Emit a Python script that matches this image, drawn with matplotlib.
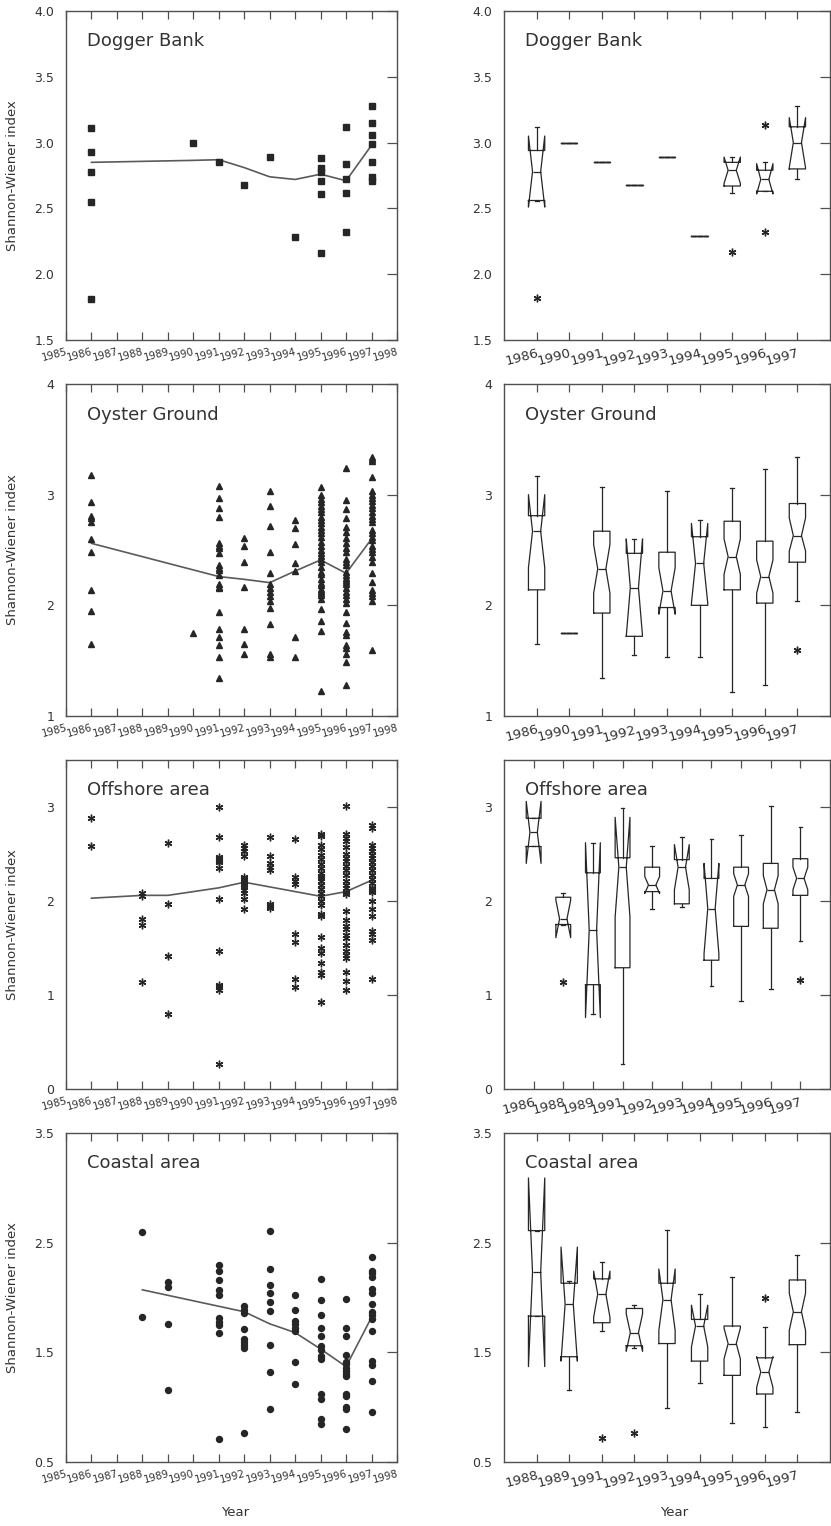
import matplotlib
matplotlib.use("Agg")
import matplotlib.pyplot as plt

# ---------------------------------------------------------------------------
# Shannon-Wiener diversity per station, grouped by sampling year
# ---------------------------------------------------------------------------

# Dogger Bank
dogger_years = [1986, 1990, 1991, 1992, 1993, 1994, 1995, 1996, 1997]
dogger_values = [
    [3.11, 2.93, 2.78, 2.55, 1.81],
    [3.00],
    [2.85],
    [2.68],
    [2.89],
    [2.28],
    [2.88, 2.81, 2.78, 2.71, 2.61, 2.16],
    [3.12, 2.84, 2.72, 2.62, 2.32],
    [3.28, 3.15, 3.06, 2.99, 2.85, 2.74, 2.71],
]
dogger_trend = [2.85, 2.865, 2.87, 2.81, 2.74, 2.72, 2.76, 2.71, 2.98]

# Oyster Ground
oyster_years = [1986, 1990, 1991, 1992, 1993, 1994, 1995, 1996, 1997]
oyster_values = [
    [3.18, 2.93, 2.81, 2.79, 2.75, 2.60, 2.48, 2.14, 1.95, 1.65],
    [1.75],
    [3.08, 2.97, 2.88, 2.80, 2.56, 2.54, 2.52, 2.47, 2.36, 2.34, 2.32, 2.27,
     2.19, 2.17, 2.16, 1.94, 1.79, 1.71, 1.64, 1.53, 1.34],
    [2.61, 2.54, 2.39, 2.17, 1.79, 1.65, 1.56],
    [3.03, 2.90, 2.72, 2.48, 2.29, 2.19, 2.16, 2.12, 2.08, 2.04, 1.98, 1.83,
     1.56, 1.53],
    [2.77, 2.70, 2.55, 2.38, 2.31, 1.71, 1.53],
    [3.07, 3.00, 2.96, 2.93, 2.90, 2.87, 2.84, 2.80, 2.77, 2.74, 2.71, 2.68,
     2.65, 2.62, 2.57, 2.54, 2.50, 2.47, 2.45, 2.42, 2.39, 2.35, 2.30, 2.28,
     2.24, 2.20, 2.18, 2.15, 2.13, 2.11, 2.09, 2.06, 1.97, 1.86, 1.77, 1.23],
    [3.24, 2.95, 2.87, 2.79, 2.71, 2.66, 2.61, 2.56, 2.52, 2.48, 2.42, 2.39,
     2.36, 2.30, 2.27, 2.25, 2.23, 2.21, 2.19, 2.16, 2.12, 2.09, 2.06, 2.02,
     1.94, 1.84, 1.76, 1.73, 1.64, 1.61, 1.56, 1.49, 1.28],
    [3.34, 3.32, 3.30, 3.16, 3.03, 3.00, 2.97, 2.94, 2.91, 2.88, 2.84, 2.81,
     2.78, 2.75, 2.68, 2.65, 2.62, 2.59, 2.54, 2.51, 2.48, 2.44, 2.39, 2.29,
     2.21, 2.14, 2.11, 2.08, 2.04, 1.60],
]
oyster_trend = [2.56, 2.32, 2.26, 2.235, 2.205, 2.31, 2.41, 2.29, 2.60]

# Offshore area
offshore_years = [1986, 1988, 1989, 1991, 1992, 1993, 1994, 1995, 1996, 1997]
offshore_values = [
    [2.88, 2.58],
    [2.09, 2.05, 1.81, 1.75, 1.14],
    [2.62, 1.97, 1.41, 0.80],
    [3.00, 2.68, 2.47, 2.45, 2.43, 2.41, 2.35, 2.02, 1.47, 1.11, 1.08, 1.05,
     0.27],
    [2.60, 2.56, 2.53, 2.48, 2.26, 2.23, 2.21, 2.19, 2.17, 2.15, 2.12, 2.08,
     2.02, 1.92],
    [2.68, 2.48, 2.40, 2.36, 2.33, 1.97, 1.95, 1.93],
    [2.66, 2.26, 2.21, 2.18, 1.65, 1.56, 1.17, 1.09],
    [2.71, 2.69, 2.60, 2.55, 2.49, 2.45, 2.39, 2.35, 2.30, 2.27, 2.25, 2.21,
     2.17, 2.13, 2.09, 2.05, 2.00, 1.96, 1.86, 1.84, 1.62, 1.50, 1.45, 1.34,
     1.24, 1.21, 0.93],
    [3.01, 2.71, 2.67, 2.64, 2.57, 2.50, 2.46, 2.43, 2.37, 2.33, 2.28, 2.21,
     2.17, 2.14, 2.10, 2.07, 1.89, 1.80, 1.73, 1.70, 1.64, 1.61, 1.53, 1.47,
     1.43, 1.39, 1.24, 1.15, 1.05],
    [2.81, 2.78, 2.60, 2.56, 2.53, 2.49, 2.46, 2.41, 2.37, 2.33, 2.28, 2.23,
     2.19, 2.14, 2.12, 2.10, 2.00, 1.91, 1.84, 1.68, 1.65, 1.58, 1.17],
]
offshore_trend = [2.03, 2.06, 2.06, 2.14, 2.20, 2.15, 2.10, 2.05, 2.10, 2.22]

# Coastal area
coastal_years = [1988, 1989, 1991, 1992, 1993, 1994, 1995, 1996, 1997]
coastal_values = [
    [2.60, 1.82],
    [2.14, 2.10, 1.76, 1.16],
    [2.30, 2.24, 2.16, 2.07, 2.02, 1.81, 1.78, 1.75, 1.68, 0.71],
    [1.92, 1.89, 1.86, 1.71, 1.62, 1.59, 1.57, 1.54, 0.76],
    [2.61, 2.26, 2.11, 2.04, 1.96, 1.88, 1.57, 1.32, 0.98],
    [2.02, 1.89, 1.79, 1.76, 1.72, 1.69, 1.41, 1.21],
    [2.17, 1.98, 1.84, 1.72, 1.65, 1.56, 1.52, 1.47, 1.44, 1.12, 1.07, 0.89,
     0.85],
    [1.99, 1.72, 1.65, 1.48, 1.41, 1.39, 1.36, 1.33, 1.30, 1.28, 1.12, 1.10,
     1.00, 0.98, 0.80],
    [2.37, 2.24, 2.22, 2.19, 2.08, 2.04, 1.94, 1.87, 1.84, 1.80, 1.69, 1.42,
     1.38, 1.24, 0.96],
]
coastal_trend = [2.07, 2.02, 1.92, 1.87, 1.76, 1.68, 1.53, 1.37, 1.82]

# Notched box-plot summaries (median, hinges, whisker ends, notch limits, outliers)
dogger_box_labels = ["1986", "1990", "1991", "1992", "1993", "1994", "1995", "1996", "1997"]
dogger_med = [2.78, 3.00, 2.85, 2.68, 2.89, 2.29, 2.79, 2.72, 3.00]
dogger_q1 = [2.56, 3.00, 2.85, 2.68, 2.89, 2.29, 2.67, 2.63, 2.80]
dogger_q3 = [2.94, 3.00, 2.85, 2.68, 2.89, 2.29, 2.85, 2.79, 3.12]
dogger_whislo = [2.56, 3.00, 2.85, 2.68, 2.89, 2.29, 2.62, 2.63, 2.72]
dogger_whishi = [3.12, 3.00, 2.85, 2.68, 2.89, 2.29, 2.89, 2.85, 3.28]
dogger_cilo = [2.51, 3.00, 2.85, 2.68, 2.89, 2.29, 2.69, 2.61, 2.81]
dogger_cihi = [3.05, 3.00, 2.85, 2.68, 2.89, 2.29, 2.89, 2.84, 3.19]
dogger_fliers = [[1.82], [], [], [], [], [], [2.17], [3.13, 2.32], []]

oyster_box_labels = ["1986", "1990", "1991", "1992", "1993", "1994", "1995", "1996", "1997"]
oyster_med = [2.67, 1.75, 2.33, 2.16, 2.13, 2.38, 2.44, 2.26, 2.63]
oyster_q1 = [2.14, 1.75, 1.93, 1.72, 1.98, 2.00, 2.14, 2.02, 2.39]
oyster_q3 = [2.81, 1.75, 2.67, 2.47, 2.48, 2.62, 2.76, 2.58, 2.92]
oyster_whislo = [1.65, 1.75, 1.34, 1.55, 1.53, 1.53, 1.22, 1.28, 2.04]
oyster_whishi = [3.17, 1.75, 3.07, 2.60, 3.03, 2.77, 3.06, 3.23, 3.34]
oyster_cilo = [2.34, 1.75, 2.11, 1.72, 1.92, 2.02, 2.28, 2.11, 2.49]
oyster_cihi = [3.00, 1.75, 2.55, 2.60, 2.34, 2.74, 2.60, 2.41, 2.79]
oyster_fliers = [[], [], [], [], [], [], [], [], [1.60]]

offshore_box_labels = ["1986", "1988", "1989", "1991", "1992", "1993", "1994", "1995", "1996", "1997"]
offshore_med = [2.73, 1.81, 1.69, 2.36, 2.17, 2.36, 1.92, 2.17, 2.12, 2.24]
offshore_q1 = [2.58, 1.75, 1.11, 1.29, 2.10, 1.97, 1.37, 1.73, 1.71, 2.06]
offshore_q3 = [2.88, 2.04, 2.30, 2.46, 2.36, 2.44, 2.24, 2.36, 2.40, 2.45]
offshore_whislo = [2.58, 1.75, 0.80, 0.27, 1.92, 1.94, 1.10, 0.94, 1.06, 1.57]
offshore_whishi = [2.88, 2.09, 2.62, 2.99, 2.59, 2.68, 2.66, 2.70, 3.01, 2.79]
offshore_cilo = [2.40, 1.61, 0.76, 1.83, 2.08, 2.12, 1.44, 2.05, 1.97, 2.12]
offshore_cihi = [3.06, 2.01, 2.62, 2.89, 2.26, 2.60, 2.40, 2.29, 2.27, 2.36]
offshore_fliers = [[], [1.14], [], [], [], [], [], [], [], [1.16]]

coastal_box_labels = ["1988", "1989", "1991", "1992", "1993", "1994", "1995", "1996", "1997"]
coastal_med = [2.23, 1.94, 2.03, 1.68, 1.98, 1.74, 1.58, 1.32, 1.87]
coastal_q1 = [1.83, 1.46, 1.77, 1.56, 1.58, 1.42, 1.29, 1.12, 1.57]
coastal_q3 = [2.61, 2.13, 2.17, 1.90, 2.13, 1.80, 1.74, 1.45, 2.16]
coastal_whislo = [1.83, 1.16, 1.69, 1.54, 0.99, 1.22, 0.86, 0.82, 0.96]
coastal_whishi = [2.61, 2.15, 2.32, 1.93, 2.62, 2.03, 2.19, 1.73, 2.39]
coastal_cilo = [1.37, 1.42, 1.82, 1.51, 1.70, 1.55, 1.44, 1.18, 1.70]
coastal_cihi = [3.09, 2.46, 2.24, 1.85, 2.26, 1.93, 1.72, 1.46, 2.04]
coastal_fliers = [[], [], [0.72], [0.76], [], [], [], [2.00], []]

# ---------------------------------------------------------------------------
# Figure
# ---------------------------------------------------------------------------
plt.rcParams["font.family"] = ["DejaVu Sans"]

W, H = 831, 1526
INK = "#262626"
LINE = "#5a5a5a"
SPINE = "#505050"
TEXT = "#333333"
ASTERISK = (6, 2, 0)

fig = plt.figure(figsize=(W / 100, H / 100), dpi=100)
fig.patch.set_facecolor("white")

ROWS = [(11, 340), (384, 716), (760, 1089), (1133, 1462)]
LEFT_X = (66, 397)
RIGHT_X = (504, 830)


def add_px_axes(x0, x1, y0, y1):
    return fig.add_axes([x0 / W, 1 - y1 / H, (x1 - x0) / W, (y1 - y0) / H])


def frame(ax, ylim, yticks, yfmt):
    ax.set_ylim(*ylim)
    ax.set_yticks(yticks)
    ax.set_yticklabels([yfmt.format(v) for v in yticks], fontsize=9, color=TEXT)
    ax.tick_params(axis="y", direction="in", left=False, right=True,
                   labelleft=True, labelright=False, length=7, width=0.9,
                   pad=8.5, color=SPINE)
    ax.tick_params(axis="x", direction="in", top=True, bottom=True,
                   length=6, width=0.9, color=SPINE, pad=5)
    for s in ax.spines.values():
        s.set_color(SPINE)
        s.set_linewidth(1.0)


def title(ax, text):
    ax.text(0.063, 0.893, text, transform=ax.transAxes, fontsize=13,
            color=TEXT, va="baseline", ha="left")


def scatter_panel(ax, name, years, values, trend, marker, ms, ylim, yticks, yfmt):
    for yr, vals in zip(years, values):
        ax.plot([yr] * len(vals), vals, ls="none", marker=marker, ms=ms,
                mfc=INK, mec=INK, mew=1.0, zorder=3)
    ax.plot(years, trend, color=LINE, lw=1.2, zorder=2)
    ax.set_xlim(1985, 1998)
    xt = list(range(1985, 1999))
    ax.set_xticks(xt)
    ax.set_xticklabels([str(v) for v in xt], rotation=15, ha="right",
                       va="top", rotation_mode="anchor", fontsize=7.4,
                       color=TEXT)
    frame(ax, ylim, yticks, yfmt)
    ax.set_ylabel("Shannon-Wiener index", fontsize=9.5, color=TEXT)
    ax.yaxis.set_label_coords(-0.142, 0.5)
    title(ax, name)


def box_panel(ax, name, labels, med, q1, q3, lo, hi, cilo, cihi, fliers,
              ylim, yticks, yfmt):
    stats = []
    for i, lab in enumerate(labels):
        stats.append(dict(label=lab, med=med[i], q1=q1[i], q3=q3[i],
                          whislo=lo[i], whishi=hi[i], cilo=cilo[i],
                          cihi=cihi[i], fliers=fliers[i]))
    n = len(stats)
    pos = list(range(1, n + 1))
    lp = dict(color=INK, linewidth=0.9)
    ax.bxp(stats, positions=pos, widths=0.5, capwidths=0.12,
           shownotches=True, manage_ticks=False,
           boxprops=lp, whiskerprops=lp, capprops=lp, medianprops=lp,
           flierprops=dict(marker=ASTERISK, markersize=5.5,
                           markeredgecolor=INK, markerfacecolor=INK,
                           markeredgewidth=1.0, linestyle="none"))
    ax.set_xlim(0, n + 1)
    ax.set_xticks(pos)
    ax.set_xticklabels(labels, rotation=15, ha="right", va="top",
                       rotation_mode="anchor", fontsize=9.6, color=TEXT)
    frame(ax, ylim, yticks, yfmt)
    title(ax, name)


panels = [
    ("Dogger Bank", dogger_years, dogger_values, dogger_trend, "s", 4.3,
     (1.5, 4.0), [1.5, 2.0, 2.5, 3.0, 3.5, 4.0], "{:.1f}",
     dogger_box_labels, dogger_med, dogger_q1, dogger_q3, dogger_whislo,
     dogger_whishi, dogger_cilo, dogger_cihi, dogger_fliers),
    ("Oyster Ground", oyster_years, oyster_values, oyster_trend, "^", 4.8,
     (1, 4), [1, 2, 3, 4], "{:.0f}",
     oyster_box_labels, oyster_med, oyster_q1, oyster_q3, oyster_whislo,
     oyster_whishi, oyster_cilo, oyster_cihi, oyster_fliers),
    ("Offshore area", offshore_years, offshore_values, offshore_trend,
     ASTERISK, 5.5, (0, 3.5), [0, 1, 2, 3], "{:.0f}",
     offshore_box_labels, offshore_med, offshore_q1, offshore_q3,
     offshore_whislo, offshore_whishi, offshore_cilo, offshore_cihi,
     offshore_fliers),
    ("Coastal area", coastal_years, coastal_values, coastal_trend, "o", 4.3,
     (0.5, 3.5), [0.5, 1.5, 2.5, 3.5], "{:.1f}",
     coastal_box_labels, coastal_med, coastal_q1, coastal_q3, coastal_whislo,
     coastal_whishi, coastal_cilo, coastal_cihi, coastal_fliers),
]

for (y0, y1), p in zip(ROWS, panels):
    (name, years, values, trend, marker, ms, ylim, yticks, yfmt,
     blabels, bmed, bq1, bq3, blo, bhi, bcilo, bcihi, bfl) = p
    axl = add_px_axes(LEFT_X[0], LEFT_X[1], y0, y1)
    scatter_panel(axl, name, years, values, trend, marker, ms, ylim, yticks, yfmt)
    axr = add_px_axes(RIGHT_X[0], RIGHT_X[1], y0, y1)
    box_panel(axr, name, blabels, bmed, bq1, bq3, blo, bhi, bcilo, bcihi,
              bfl, ylim, yticks, yfmt)

fig.text(235 / W, 1 - 1513 / H, "Year", ha="center", va="center",
         fontsize=9.5, color=TEXT)
fig.text(674 / W, 1 - 1513 / H, "Year", ha="center", va="center",
         fontsize=9.5, color=TEXT)

fig.savefig("out.png", dpi=100, facecolor="white")
